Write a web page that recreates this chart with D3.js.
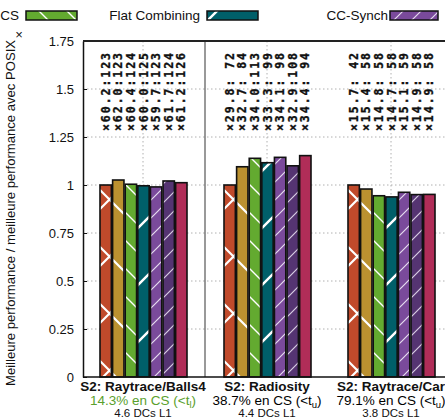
<!DOCTYPE html>
<html>
<head>
<meta charset="utf-8">
<script src="https://cdn.jsdelivr.net/npm/d3@7"></script>
<style>
  html, body { margin: 0; padding: 0; background: #fff; }
  svg { display: block; font-family: "Liberation Sans", Arial, sans-serif; }
</style>
</head>
<body>
<svg id="chart" width="445" height="417"></svg>
<script>
// Benchmarks (one group each) and the notes printed under them
const groups = ["S2: Raytrace/Balls4", "S2: Radiosity", "S2: Raytrace/Car"];
const csShare = ["14.3% en CS (", "38.7% en CS (", "79.1% en CS ("];
const csBound = ["l", "u", "u"];
const csColor = ["#5aa02c", "#000", "#000"];
const dcsL1 = ["4.6 DCs L1", "4.4 DCs L1", "3.8 DCs L1"];

// Seven lock implementations, drawn left to right in every group
const series = ["s1", "s2", "s3", "s4", "s5", "s6", "s7"];
const colors = ["#c04a2b", "#bb9130", "#63aa30", "#005f69", "#7a4a9b", "#553472", "#b02d58"];

// Best performance relative to the best POSIX performance
const balls4 = [1.0, 1.026, 1.004, 0.996, 0.990, 1.021, 1.012];
const radiosity = [1.0, 1.095, 1.139, 1.116, 1.144, 1.100, 1.153];
const car = [1.0, 0.979, 0.944, 0.938, 0.962, 0.950, 0.951];

// Speedup and thread count printed above each bar
const balls4Speedup = [60.2, 62.0, 60.4, 60.0, 59.7, 61.7, 61.2];
const balls4Threads = [123, 123, 124, 125, 123, 124, 126];
const radiositySpeedup = [29.8, 32.7, 34.0, 33.3, 34.1, 32.9, 34.4];
const radiosityThreads = [72, 84, 113, 99, 98, 108, 94];
const carSpeedup = [15.7, 15.4, 14.8, 14.7, 15.1, 14.9, 14.9];
const carThreads = [42, 58, 58, 58, 59, 58, 58];

// Axis ticks
const yTicks = [0, 0.25, 0.5, 0.75, 1, 1.25, 1.5, 1.75];
const yTickLabels = ["0", "0.25", "0.5", "0.75", "1", "1.25", "1.5", "1.75"];

// Legend entries visible on this row
const legendLabels = ["CS", "Flat Combining", "CC-Synch"];
const legendSeries = [2, 3, 4];

const values = [balls4, radiosity, car];
const speedups = [balls4Speedup, radiositySpeedup, carSpeedup];
const threads = [balls4Threads, radiosityThreads, carThreads];

const svg = d3.select("#chart");
const plotTop = 41, plotBottom = 377, plotLeft = 83, plotRight = 445;

const y = d3.scaleLinear().domain([0, 1.75]).range([plotBottom, plotTop]);
const x0 = d3.scaleBand().domain(groups).range([81, 453]).padding(0);
const x1 = d3.scaleBand().domain(series).range([19, 106]).paddingInner(0.1).paddingOuter(0);

// Hatch patterns: [period, kind, stroke width, stroke colour]
const hatch = [
  [57, "x", 2.2, "#fff"],
  [57, "\\", 2.2, "#fff"],
  [28, "\\", 1.4, "#fff"],
  [57, "/", 2.4, "#fff"],
  [18, "/", 1.2, "#e6dcef"],
  [19, "/", 1.2, "#d8cde3"],
  null
];
const defs = svg.append("defs");
hatch.forEach((h, i) => {
  if (!h) return;
  const [p, kind, sw, sc] = h;
  const pat = defs.append("pattern")
    .attr("id", "hatch" + i)
    .attr("patternUnits", "userSpaceOnUse")
    .attr("width", p).attr("height", p);
  pat.append("rect").attr("width", p).attr("height", p).attr("fill", colors[i]);
  const slash = `M-2,2 L2,-2 M0,${p} L${p},0 M${p - 2},${p + 2} L${p + 2},${p - 2}`;
  const back = `M-2,${p - 2} L2,${p + 2} M0,0 L${p},${p} M${p - 2},-2 L${p + 2},2`;
  const d = kind === "/" ? slash : kind === "\\" ? back : slash + " " + back;
  pat.append("path").attr("d", d).attr("stroke", sc).attr("stroke-width", sw).attr("fill", "none");
});
const fillFor = i => hatch[i] ? `url(#hatch${i})` : colors[i];

// Dotted grid
const grid = svg.append("g").attr("stroke", "#b0b0b0").attr("stroke-width", 1).attr("stroke-dasharray", "1.5,2.5");
grid.selectAll("line.h").data(yTicks.filter(t => t > 0 && t < 1.75)).join("line")
  .attr("class", "h")
  .attr("x1", plotLeft).attr("x2", plotRight)
  .attr("y1", d => y(d)).attr("y2", d => y(d));
grid.selectAll("line.v").data(groups).join("line")
  .attr("class", "v")
  .attr("x1", d => x0(d) + x0.bandwidth() / 2).attr("x2", d => x0(d) + x0.bandwidth() / 2)
  .attr("y1", plotTop).attr("y2", plotBottom);

// Separator between the first two benchmarks
svg.append("line")
  .attr("x1", x0(groups[1])).attr("x2", x0(groups[1]))
  .attr("y1", plotTop).attr("y2", plotBottom)
  .attr("stroke", "#555").attr("stroke-width", 1.2);

// Bars
groups.forEach((g, gi) => {
  const gg = svg.append("g").attr("transform", `translate(${x0(g)},0)`);
  gg.selectAll("rect").data(values[gi]).join("rect")
    .attr("x", (d, i) => x1(series[i]))
    .attr("y", d => y(d))
    .attr("width", x1.bandwidth())
    .attr("height", d => y(0) - y(d))
    .attr("fill", (d, i) => fillFor(i))
    .attr("stroke", "#111")
    .attr("stroke-width", 1.6);

  // Rotated speedup:threads labels
  gg.selectAll("text.note").data(values[gi]).join("text")
    .attr("class", "note")
    .attr("transform", (d, i) => `translate(${x1(series[i]) + x1.bandwidth() / 2},131) rotate(-90)`)
    .attr("dominant-baseline", "central")
    .attr("font-family", "'DejaVu Sans Mono', monospace")
    .attr("font-weight", "bold")
    .attr("font-size", 11.5)
    .attr("fill", "#111")
    .attr("stroke", "#111")
    .attr("stroke-width", 0.35)
    .attr("textLength", 78)
    .attr("lengthAdjust", "spacing")
    .text((d, i) => "×" + speedups[gi][i].toFixed(1) + ":" + String(threads[gi][i]).padStart(3, "\u00A0"));
});

// Y axis
const yAxis = d3.axisLeft(y)
  .tickValues(yTicks)
  .tickFormat((d, i) => yTickLabels[i])
  .tickSizeInner(-4).tickSizeOuter(0).tickPadding(9);
const ya = svg.append("g").attr("transform", `translate(${plotLeft},0)`).call(yAxis);
ya.select(".domain").attr("stroke", "#111").attr("stroke-width", 1.5);
ya.selectAll(".tick line").attr("stroke", "#111");
ya.selectAll(".tick text").attr("font-size", 13).attr("font-family", "'Liberation Sans', Arial, sans-serif").attr("fill", "#111");

// Frame: top border and baseline
svg.append("line").attr("x1", plotLeft).attr("x2", plotRight).attr("y1", plotTop).attr("y2", plotTop)
  .attr("stroke", "#222").attr("stroke-width", 2.2);
svg.append("line").attr("x1", plotLeft).attr("x2", plotRight).attr("y1", plotBottom).attr("y2", plotBottom)
  .attr("stroke", "#111").attr("stroke-width", 1.6);

// Y axis title
svg.append("text")
  .attr("transform", `translate(15,${(plotTop + plotBottom) / 2 + 4}) rotate(-90)`)
  .attr("text-anchor", "middle")
  .attr("font-size", 12)
  .attr("textLength", 346)
  .attr("lengthAdjust", "spacingAndGlyphs")
  .attr("fill", "#111")
  .text("Meilleure performance / meilleure performance avec POSIX");

// Category labels
const cat = svg.append("g").attr("text-anchor", "middle").attr("fill", "#111");
groups.forEach((g, gi) => {
  const cx = x0(g) + x0.bandwidth() / 2;
  cat.append("text").attr("x", cx).attr("y", 391)
    .attr("font-size", 13.5).attr("font-weight", "bold").text(g);
  const t = cat.append("text").attr("x", cx).attr("y", 405)
    .attr("font-size", 13.5).attr("fill", csColor[gi]);
  t.append("tspan").text(csShare[gi] + "<t");
  t.append("tspan").attr("font-size", 9.5).attr("dy", 3).text(csBound[gi]);
  t.append("tspan").attr("dy", -3).text(")");
  cat.append("text").attr("x", cx).attr("y", 416.5)
    .attr("font-size", 11.5).text(dcsL1[gi]);
});

// Legend row
const legendX = [[19, 26], [200, 207], [388, 390]];
const legendW = [51, 51, 48];
legendLabels.forEach((lab, k) => {
  svg.append("text").attr("x", legendX[k][0]).attr("y", 20)
    .attr("text-anchor", "end").attr("font-size", 13.5).attr("fill", "#111")
    .text(lab);
  svg.append("rect").attr("x", legendX[k][1]).attr("y", 11)
    .attr("width", legendW[k]).attr("height", 9)
    .attr("fill", fillFor(legendSeries[k]))
    .attr("stroke", "#111").attr("stroke-width", 1.5);
});
svg.append("text").attr("x", 19).attr("y", 39).attr("text-anchor", "middle")
  .attr("font-size", 13).attr("fill", "#111").text("×");
</script>
</body>
</html>
